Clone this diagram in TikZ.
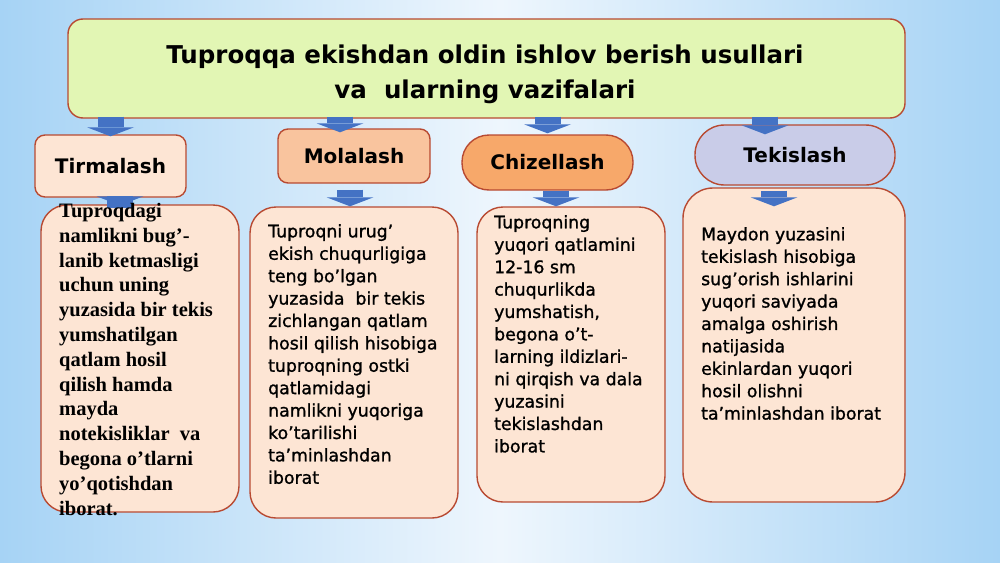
\documentclass[tikz,border=0pt]{standalone}
\usepackage{fontspec}
\setmainfont{DejaVu Sans}
\newfontfamily\serifbold{Liberation Serif}
\newfontfamily\boxfont[FakeBold=1.2]{DejaVu Sans}
\usetikzlibrary{arrows.meta}

\definecolor{bordred}{RGB}{184,74,50}
\definecolor{titlegreen}{RGB}{226,246,180}
\definecolor{peachlight}{RGB}{253,229,212}
\definecolor{peachmid}{RGB}{249,196,158}
\definecolor{orangemid}{RGB}{247,168,106}
\definecolor{lavender}{RGB}{201,204,232}
\definecolor{arrowblue}{RGB}{68,114,196}
\definecolor{skyedge}{RGB}{166,211,245}
\definecolor{skymid}{RGB}{238,246,253}

\begin{document}
\begin{tikzpicture}[x=1pt,y=-1pt,
    box/.style={draw=bordred,line width=1.4pt,inner sep=0pt},
    headbox/.style={box,font=\bfseries\fontsize{20}{24}\selectfont},
    infobox/.style={box,fill=peachlight,rounded corners=26pt},
    infotext/.style={anchor=north west,inner sep=0pt,align=left,font=\boxfont\fontsize{17.3}{22.4}\selectfont},
    blockarrow/.style={draw=arrowblue,line width=26pt,-{Triangle[width=47pt,length=9pt,line width=0pt,fill=arrowblue]}}]
    % background
    \fill[left color=skyedge,right color=skyedge,middle color=skymid] (0,0) rectangle (1000,562);
    \useasboundingbox (0,0) rectangle (1000,562);

    % title
    \node[box,fill=titlegreen,rounded corners=15pt,minimum width=837pt,minimum height=99pt] (title) at (486.5,68.5) {};
    \node[font=\bfseries\fontsize{24.5}{35}\selectfont,align=center] (titletext) at (485,74)
        {Tuproqqa ekishdan oldin ishlov berish usullari\\va\ \ ularning vazifalari};

    % methods
    \node[headbox,fill=peachlight,rounded corners=10pt,minimum width=151pt,minimum height=62pt] (tirm) at (110.5,166) {Tirmalash};
    \node[headbox,fill=peachmid,rounded corners=10pt,minimum width=152pt,minimum height=54pt] (mol) at (354,156) {Molalash};
    \node[headbox,fill=orangemid,rounded corners=27pt,minimum width=171pt,minimum height=55pt] (chiz) at (547.5,162.5) {Chizellash};
    \node[headbox,fill=lavender,rounded corners=29.5pt,minimum width=200pt,minimum height=60pt] (teks) at (795,155) {Tekislash};

    % descriptions
    \node[infobox,minimum width=198pt,minimum height=307pt] (b1) at (140,358.5) {};
    \node[infobox,minimum width=208pt,minimum height=311pt] (b2) at (354,362.5) {};
    \node[infobox,minimum width=188pt,minimum height=295pt] (b3) at (571,354.5) {};
    \node[infobox,rounded corners=30pt,minimum width=222pt,minimum height=314pt] (b4) at (794,345) {};

    % arrows
    \draw[blockarrow,shorten <=-2pt,shorten >=-2pt] (title.south -| tirm.north) -- (tirm.north);
    \draw[blockarrow,shorten <=-2pt,shorten >=-4pt] ([xshift=-14pt]title.south -| mol.north) -- ([xshift=-14pt]mol.north);
    \draw[blockarrow,shorten <=-2pt,shorten >=1pt] (title.south -| chiz.north) -- (chiz.north);
    \draw[blockarrow,shorten <=-2pt,shorten >=-10pt] ([xshift=-30pt]title.south -| teks.north) -- ([xshift=-30pt]teks.north);
    \draw[blockarrow,shorten <=-10pt,shorten >=-1pt] ([xshift=9.5pt]tirm.south) -- ([xshift=9.5pt]tirm.south |- b1.north);
    \draw[blockarrow,shorten <=6pt] ([xshift=-4pt]mol.south) -- ([xshift=-4pt]mol.south |- b2.north);
    \draw[blockarrow] ([xshift=8.5pt]chiz.south) -- ([xshift=8.5pt]chiz.south |- b3.north);
    \draw[blockarrow,shorten <=5pt,shorten >=-19pt] ([xshift=-21pt]teks.south) -- ([xshift=-21pt]teks.south |- b4.north);

    \node[infotext,font=\serifbold\bfseries\fontsize{20.5}{24.8}\selectfont] (t1) at (59,203)
        {Tuproqdagi\\namlikni bug’-\\lanib ketmasligi\\uchun uning\\yuzasida bir tekis\\yumshatilgan\\qatlam hosil\\qilish hamda\\mayda\\notekisliklar\ \ va\\begona o’tlarni\\yo’qotishdan\\iborat.};
    \node[infotext] (t2) at (268,224)
        {Tuproqni urug’\\ekish chuqurligiga\\teng bo’lgan\\yuzasida\ \ bir tekis\\zichlangan qatlam\\hosil qilish hisobiga\\tuproqning ostki\\qatlamidagi\\namlikni yuqoriga\\ko’tarilishi\\ta’minlashdan\\iborat};
    \node[infotext] (t3) at (494,215)
        {Tuproqning\\yuqori qatlamini\\12-16 sm\\chuqurlikda\\yumshatish,\\begona o’t-\\larning ildizlari-\\ni qirqish va dala\\yuzasini\\tekislashdan\\iborat};
    \node[infotext] (t4) at (701,227)
        {Maydon yuzasini\\tekislash hisobiga\\sug’orish ishlarini\\yuqori saviyada\\amalga oshirish\\natijasida\\ekinlardan yuqori\\hosil olishni\\ta’minlashdan iborat};
\end{tikzpicture}
\end{document}
